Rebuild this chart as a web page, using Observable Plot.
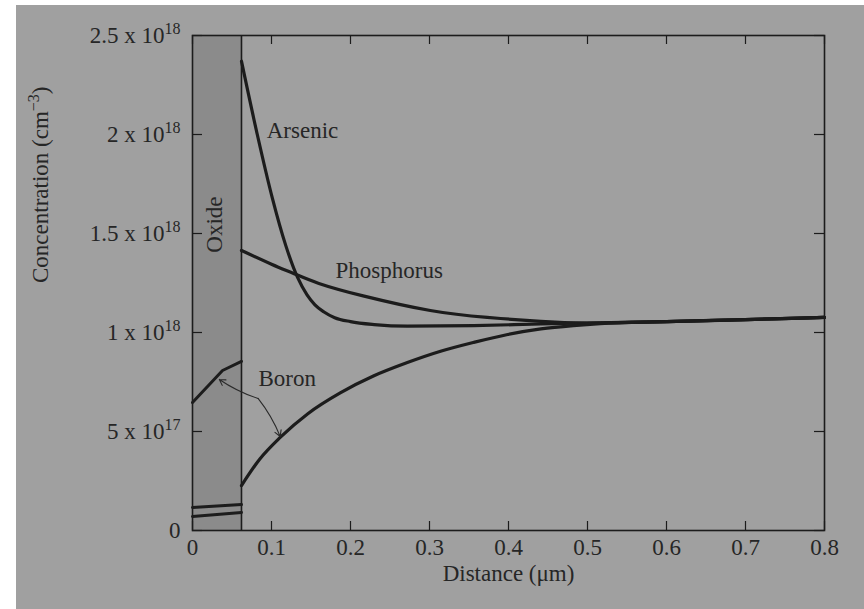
<!DOCTYPE html>
<html>
<head>
<meta charset="utf-8">
<script src="https://cdn.jsdelivr.net/npm/d3@7"></script>
<script src="https://cdn.jsdelivr.net/npm/@observablehq/plot@0.6"></script>
<style>
  html, body { margin: 0; padding: 0; background: #ffffff; }
  #paper { position: absolute; left: 16px; top: 5px; width: 848px; height: 604px; background: #a0a0a0; }
  #chart { position: absolute; left: 0; top: 0; }
</style>
</head>
<body>
<div id="paper"></div>
<div id="chart"></div>
<script>
// ---- Data (concentration in units of 1e18 cm^-3, distance in µm) ----
const xTicks = [0, 0.1, 0.2, 0.3, 0.4, 0.5, 0.6, 0.7, 0.8];
const xTickLabels = ["0", "0.1", "0.2", "0.3", "0.4", "0.5", "0.6", "0.7", "0.8"];
const yTicks = [0, 0.5, 1, 1.5, 2, 2.5];
const yTickBase = ["0", "5 x 10", "1 x 10", "1.5 x 10", "2 x 10", "2.5 x 10"];
const yTickExp = ["", "17", "18", "18", "18", "18"];

const oxideRange = [0, 0.062];

const arsenicX = [0.062, 0.082, 0.101, 0.118, 0.133, 0.145, 0.155, 0.166, 0.18, 0.2, 0.23, 0.272, 0.356, 0.441, 0.5, 0.6, 0.7, 0.8];
const arsenicY = [2.37, 2.0, 1.68, 1.44, 1.278, 1.19, 1.14, 1.105, 1.075, 1.055, 1.04, 1.032, 1.035, 1.043, 1.048, 1.055, 1.065, 1.076];

const phosphorusX = [0.062, 0.1, 0.128, 0.16, 0.216, 0.301, 0.373, 0.441, 0.5, 0.6, 0.7, 0.8];
const phosphorusY = [1.414, 1.345, 1.298, 1.248, 1.185, 1.111, 1.076, 1.056, 1.048, 1.055, 1.065, 1.076];

const boronX = [0.062, 0.085, 0.111, 0.146, 0.187, 0.229, 0.272, 0.314, 0.356, 0.399, 0.441, 0.482, 0.516, 0.6, 0.7, 0.8];
const boronY = [0.227, 0.36, 0.47, 0.59, 0.695, 0.78, 0.848, 0.905, 0.95, 0.99, 1.018, 1.035, 1.045, 1.055, 1.065, 1.076];

const boronOxideX = [0, 0.038, 0.062];
const boronOxideY = [0.646, 0.808, 0.854];

const arsenicOxideX = [0, 0.062];
const arsenicOxideY = [0.071, 0.091];
const phosphorusOxideX = [0, 0.062];
const phosphorusOxideY = [0.116, 0.131];

const labelText = ["Arsenic", "Phosphorus", "Boron"];
const labelX = [0.094, 0.181, 0.0835];
const labelY = [2.02, 1.313, 0.768];
const oxideLabel = {text: "Oxide", x: 0.028, y: 1.545};

// Boron pointer arrows: from the junction to each boron curve
const arrowFromX = [0.083, 0.083];
const arrowFromY = [0.667, 0.667];
const arrowToX = [0.034, 0.111];
const arrowToY = [0.763, 0.475];

const xTitle = "Distance (μm)";
const yTitleBase = "Concentration (cm";
const yTitleExp = "−3";

// ---- Build tables ----
const pts = (xs, ys) => xs.map((x, i) => ({x, y: ys[i]}));
const arsenic = pts(arsenicX, arsenicY);
const phosphorus = pts(phosphorusX, phosphorusY);
const boron = pts(boronX, boronY);
const boronOxide = pts(boronOxideX, boronOxideY);
const arsenicOxide = pts(arsenicOxideX, arsenicOxideY);
const phosphorusOxide = pts(phosphorusOxideX, phosphorusOxideY);
const labels = labelText.map((t, i) => ({text: t, x: labelX[i], y: labelY[i]}));
const arrows = arrowFromX.map((_, i) => ({x1: arrowFromX[i], y1: arrowFromY[i], x2: arrowToX[i], y2: arrowToY[i]}));

const ink = "#1c1c1c";
const textInk = "#262626";
const W = 864, H = 609, mL = 192, mR = 40, mT = 35, mB = 79;
const frameW = W - mL - mR, frameH = H - mT - mB;
const tickFont = 23, labelFont = 23;

const plot = Plot.plot({
  width: W, height: H,
  marginLeft: mL, marginRight: mR, marginTop: mT, marginBottom: mB,
  style: {background: "transparent", fontFamily: "'Liberation Serif', 'DejaVu Serif', serif", fontSize: tickFont + "px", color: textInk},
  x: {domain: [0, 0.8]},
  y: {domain: [0, 2.5]},
  marks: [
    Plot.rect([oxideRange], {x1: d => d[0], x2: d => d[1], y1: 0, y2: 2.5, fill: "#8b8b8b"}),
    Plot.ruleX([oxideRange[1]], {stroke: ink, strokeWidth: 1.6}),
    // inward ticks on all four sides
    Plot.tickX(xTicks, {x: d => d, insetTop: frameH - 9, stroke: ink, strokeWidth: 1.2}),
    Plot.tickX(xTicks, {x: d => d, insetBottom: frameH - 9, stroke: ink, strokeWidth: 1.2}),
    Plot.tickY(yTicks, {y: d => d, insetRight: frameW - 10, stroke: ink, strokeWidth: 1.2}),
    Plot.tickY(yTicks, {y: d => d, insetLeft: frameW - 10, stroke: ink, strokeWidth: 1.2}),
    Plot.axisX(xTicks, {tickSize: 0, tickPadding: 8, tickFormat: (d, i) => xTickLabels[i], label: null, fontSize: tickFont}),
    Plot.axisY(yTicks, {tickSize: 0, tickPadding: 12, tickFormat: (d, i) => yTickBase[i], label: null, fontSize: tickFont}),
    // curves
    Plot.line(arsenic, {x: "x", y: "y", stroke: ink, strokeWidth: 3.2, curve: "monotone-x"}),
    Plot.line(phosphorus, {x: "x", y: "y", stroke: ink, strokeWidth: 3.2, curve: "natural"}),
    Plot.line(boron, {x: "x", y: "y", stroke: ink, strokeWidth: 3.2, curve: "monotone-x"}),
    Plot.line(boronOxide, {x: "x", y: "y", stroke: ink, strokeWidth: 3, curve: "linear"}),
    Plot.line(arsenicOxide, {x: "x", y: "y", stroke: ink, strokeWidth: 3}),
    Plot.line(phosphorusOxide, {x: "x", y: "y", stroke: ink, strokeWidth: 3}),
    Plot.arrow(arrows, {x1: "x1", y1: "y1", x2: "x2", y2: "y2", stroke: "#2a2a2a", strokeWidth: 1.1, headLength: 9, bend: 8}),
    Plot.frame({stroke: ink, strokeWidth: 1.6}),
    // annotations
    Plot.text(labels, {x: "x", y: "y", text: "text", textAnchor: "start", fontSize: labelFont, fill: textInk}),
    Plot.text([oxideLabel], {x: "x", y: "y", text: "text", rotate: -90, fontSize: labelFont, fill: textInk}),
    Plot.text([xTitle], {text: d => d, frameAnchor: "bottom", dy: 50, fontSize: labelFont, fill: textInk}),
    Plot.text([yTitleBase], {text: d => d, frameAnchor: "left", dx: -152, rotate: -90, fontSize: labelFont, fill: textInk})
  ]
});

// superscripts as real text (tspans)
const NS = "http://www.w3.org/2000/svg";
plot.querySelectorAll('g[aria-label="y-axis tick label"] text').forEach((t, i) => {
  if (yTickExp[i]) {
    const s = document.createElementNS(NS, "tspan");
    s.setAttribute("dy", "-9");
    s.setAttribute("font-size", "16");
    s.textContent = yTickExp[i];
    t.appendChild(s);
  }
});
plot.querySelectorAll("text").forEach(t => {
  if (t.textContent === yTitleBase) {
    const s = document.createElementNS(NS, "tspan");
    s.setAttribute("dy", "-9");
    s.setAttribute("font-size", "16");
    s.textContent = yTitleExp;
    const c = document.createElementNS(NS, "tspan");
    c.setAttribute("dy", "9");
    c.textContent = ")";
    t.appendChild(s);
    t.appendChild(c);
  }
});

document.getElementById("chart").appendChild(plot);
</script>
</body>
</html>
